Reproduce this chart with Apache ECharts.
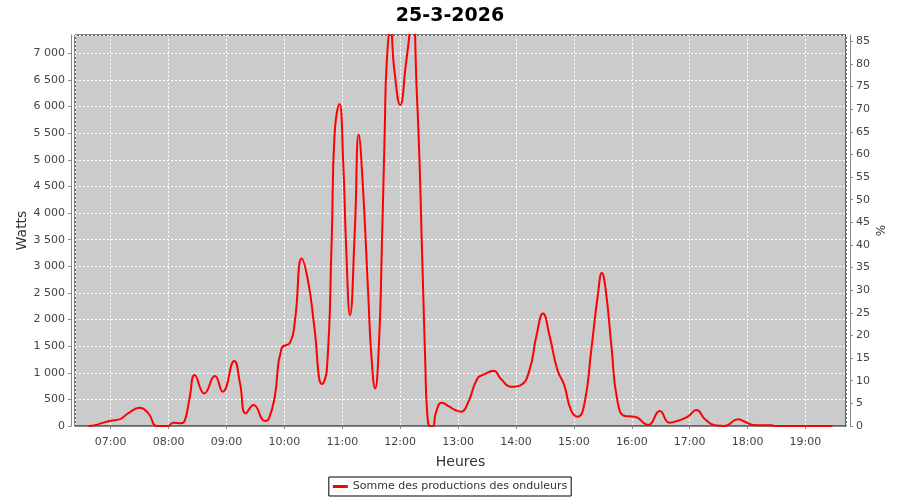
<!DOCTYPE html>
<html>
<head>
<meta charset="utf-8">
<script src="https://cdn.jsdelivr.net/npm/echarts@6/dist/echarts.min.js"></script>
<style>
  html, body { margin: 0; padding: 0; background: #fff; }
  #chart { width: 900px; height: 500px; }
</style>
</head>
<body>
<div id="chart"></div>
<script>
// readings of the day (hh:mm -> watts)
var times = [
  '06:37', '06:45', '06:50', '07:00', '07:09', '07:18', '07:30', '07:39', '07:48', '07:59',
  '08:05', '08:13', '08:17', '08:22', '08:27', '08:37', '08:48', '08:56', '09:08', '09:14',
  '09:20', '09:28', '09:40', '09:44', '09:50', '09:57', '10:06', '10:11', '10:18', '10:25',
  '10:31', '10:39', '10:44', '10:49', '10:52', '10:57', '11:01', '11:04', '11:08', '11:13',
  '11:17', '11:21', '11:27', '11:30', '11:34', '11:38', '11:41', '11:44', '11:46', '11:50',
  '11:54', '12:00', '12:06', '12:09', '12:13', '12:17', '12:20', '12:22', '12:24', '12:26',
  '12:28', '12:31', '12:34', '12:37', '12:43', '12:51', '12:57', '13:03', '13:10', '13:20',
  '13:27', '13:37', '13:44', '13:55', '14:05', '14:14', '14:21', '14:28', '14:35', '14:43',
  '14:50', '14:57', '15:04', '15:11', '15:18', '15:25', '15:29', '15:33', '15:39', '15:45',
  '15:53', '16:03', '16:17', '16:29', '16:39', '16:48', '16:58', '17:07', '17:16', '17:26',
  '17:36', '17:50', '17:57', '18:06', '18:25', '18:28', '19:28'
]
var watts = [
  0, 20, 50, 100, 125, 237, 344, 237, 0, 0,
  62, 50, 112, 550, 956, 612, 937, 644, 1219, 800,
  237, 394, 94, 144, 550, 1456, 1569, 1987, 3144, 2675,
  1862, 787, 1050, 3487, 5487, 6048, 4925, 3362, 2081, 3675,
  5475, 4612, 2425, 1362, 706, 1550, 3368, 5560, 6812, 7450,
  6675, 6030, 6810, 7254, 7950, 6363, 5000, 3681, 2429, 1183,
  250, 0, 0, 250, 437, 362, 300, 269, 425, 894,
  969, 1037, 894, 737, 769, 1050, 1675, 2112, 1675, 1050,
  769, 300, 175, 425, 1425, 2487, 2875, 2550, 1487, 487,
  187, 175, 19, 281, 62, 100, 175, 300, 125, 12,
  0, 125, 81, 19, 12, 0, 0
]
var dayLabel = '25-3-2026'
var seriesName = 'Somme des productions des onduleurs'
var axisStart = '06:23'
var axisEnd = '19:42'
var wattsMax = 7344
var percentMax = 86.4

function toDate(hm) {
  var p = hm.split(':')
  return new Date(2026, 2, 25, +p[0], +p[1]).getTime()
}

function fmtThousands(v) {
  return String(v).replace(/\B(?=(\d{3})+(?!\d))/g, ' ')
}

var points = times.map(function (t, i) {
  return [toDate(t), watts[i]]
})

var font = 'DejaVu Sans'
var chart = echarts.init(document.getElementById('chart'))

chart.setOption({
  backgroundColor: '#fff',
  animation: false,
  title: {
    text: dayLabel,
    left: 'center',
    top: 2,
    textStyle: {
      fontFamily: font,
      fontSize: 19,
      fontWeight: 'bold',
      color: '#000'
    }
  },
  legend: {
    data: [seriesName],
    left: 'center',
    top: 477,
    padding: [4, 4, 4, 4],
    borderColor: '#000',
    borderWidth: 1,
    itemWidth: 15,
    itemHeight: 3,
    icon: 'rect',
    textStyle: {
      fontFamily: font,
      fontSize: 11,
      color: '#333'
    }
  },
  grid: {
    left: 75,
    right: 54,
    top: 35,
    bottom: 74,
    show: true,
    backgroundColor: '#cbcbcb',
    borderColor: '#000',
    borderWidth: 1
  },
  xAxis: {
    type: 'time',
    min: toDate(axisStart),
    max: toDate(axisEnd),
    minInterval: 3600 * 1000,
    maxInterval: 3600 * 1000,
    offset: 5,
    name: 'Heures',
    nameLocation: 'middle',
    nameGap: 24,
    nameMoveOverlap: false,
    nameTextStyle: {
      fontFamily: font,
      fontSize: 14,
      color: '#333'
    },
    axisLine: {
      lineStyle: { color: '#888' }
    },
    axisTick: {
      show: true,
      length: 3,
      lineStyle: { color: '#888' }
    },
    axisLabel: {
      fontFamily: font,
      fontSize: 11,
      color: '#444',
      margin: 6,
      formatter: '{HH}:{mm}',
      hideOverlap: false
    },
    splitLine: {
      show: true,
      lineStyle: { color: '#fff', type: [2, 2] }
    }
  },
  yAxis: [{
      type: 'value',
      min: 0,
      max: wattsMax,
      interval: 500,
      offset: 4,
      name: 'Watts',
      nameLocation: 'middle',
      nameGap: 42,
      nameMoveOverlap: false,
      nameTextStyle: {
        fontFamily: font,
        fontSize: 14,
        color: '#333'
      },
      axisLine: {
        show: true,
        lineStyle: { color: '#888' }
      },
      axisTick: {
        show: true,
        length: 3,
        lineStyle: { color: '#888' }
      },
      axisLabel: {
        fontFamily: font,
        fontSize: 11,
        color: '#444',
        margin: 6,
        showMaxLabel: false,
        formatter: fmtThousands
      },
      splitLine: {
        show: true,
        lineStyle: { color: '#fff', type: [2, 2] }
      }
    },
    {
      type: 'value',
      min: 0,
      max: percentMax,
      interval: 5,
      offset: 4,
      name: '%',
      nameLocation: 'middle',
      nameGap: 26,
      nameMoveOverlap: false,
      nameTextStyle: {
        fontFamily: font,
        fontSize: 12,
        color: '#333'
      },
      axisLine: {
        show: true,
        lineStyle: { color: '#888' }
      },
      axisTick: {
        show: true,
        length: 3,
        lineStyle: { color: '#888' }
      },
      axisLabel: {
        fontFamily: font,
        fontSize: 11,
        color: '#444',
        margin: 6,
        showMaxLabel: false
      },
      splitLine: { show: false }
    }
  ],
  series: [{
    name: seriesName,
    type: 'line',
    yAxisIndex: 0,
    data: points,
    smooth: 0.5,
    showSymbol: false,
    clip: true,
    lineStyle: { color: '#ff0000', width: 2 },
    itemStyle: { color: '#ff0000' }
  }]
})
</script>
</body>
</html>
